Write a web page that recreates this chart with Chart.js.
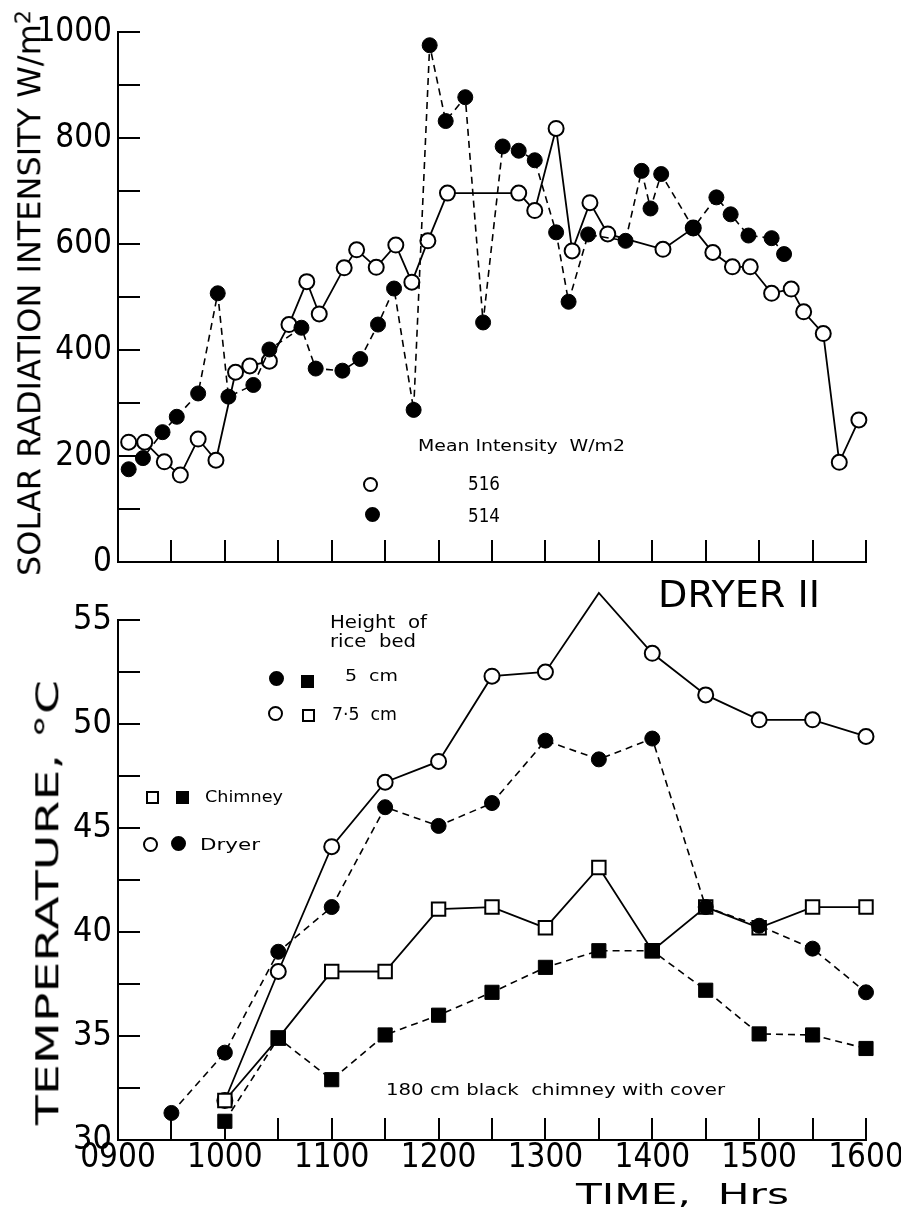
<!DOCTYPE html>
<html><head><meta charset="utf-8">
<script src="https://cdn.jsdelivr.net/npm/chart.js@4/dist/chart.umd.min.js"></script>
<style>
html,body{margin:0;padding:0;background:#fff;}
#wrap{position:relative;width:901px;height:1209px;overflow:hidden;background:#fff;}
canvas{position:absolute;left:0;}
.t{position:absolute;left:0;top:0;white-space:nowrap;line-height:1;color:#000;font-family:'DejaVu Sans',sans-serif;transform-origin:0 0;}
.mk{position:absolute;box-sizing:border-box;border:2px solid #000;}
</style></head><body>
<div id="wrap">
<canvas id="cTop" width="901" height="600" style="top:0px"></canvas>
<canvas id="cBot" width="901" height="629" style="top:580px"></canvas>
</div>
<script>
// ---------- DATA (time in minutes after 09:00) ----------
const solarOpenTime   = [6,15,26,35,45,55,66,74,85,96,106,113,127,134,145,156,165,174,185,225,234,246,255,265,275,306,323,334,345,355,367,378,385,396,405,416];
const solarOpenValue  = [226,226,189,164,232,192,358,370,379,448,529,468,555,589,556,598,528,606,696,696,663,818,587,678,619,590,630,584,557,557,507,515,472,431,188,268];
const solarFilledTime = [6,14,25,33,45,56,62,76,85,103,111,126,136,146,155,166,175,184,195,205,216,225,234,246,253,264,285,294,299,305,323,336,344,354,367,374];
const solarFilledValue= [175,196,245,274,318,507,312,334,401,442,365,361,383,448,516,287,975,832,877,452,784,776,758,622,491,618,606,738,667,732,630,688,656,616,611,581];

const dryer5Time   = [30,60,90,120,150,180,210,240,270,300,330,360,390,420];
const dryer5Temp   = [31.3,34.2,39.05,41.2,46.0,45.1,46.2,49.2,48.3,49.3,41.2,40.3,39.2,37.1];
const halfHourTime = [60,90,120,150,180,210,240,270,300,330,360,390,420];
const dryer75Temp  = [31.9,38.1,44.1,47.2,48.2,52.3,52.5,56.3,53.4,51.4,50.2,50.2,49.4];
const chim75Temp   = [31.9,34.9,38.1,38.1,41.1,41.2,40.2,43.1,39.1,41.2,40.2,41.2,41.2];
const chim5Temp    = [30.9,34.9,32.9,35.05,36.0,37.1,38.3,39.1,39.1,37.2,35.1,35.05,34.4];

const timeTicks      = [0,30,60,90,120,150,180,210,240,270,300,330,360,390,420];
const timeTickLabels = ['0900','1000','1100','1200','1300','1400','1500','1600'];
const solarTickLabels= ['0','200','400','600','800','1000'];
const tempTickLabels = ['30','35','40','45','50','55'];

// ---------- HELPERS ----------
const NARROW = "'Liberation Sans Narrow','DejaVu Sans Condensed','Arial Narrow',sans-serif";
Chart.defaults.color = '#000';
Chart.defaults.font.family = NARROW;
const pts = (xs, ys) => xs.map((x, i) => ({x: x, y: ys[i]}));

const lineBase = {borderColor:'#000', fill:false, tension:0, clip:false, pointBorderColor:'#000'};
const openCircle   = Object.assign({}, lineBase, {borderWidth:1.8, pointStyle:'circle', pointRadius:7.5, pointHoverRadius:7.5, pointBorderWidth:2, pointBackgroundColor:'#fff'});
const filledCircle = Object.assign({}, lineBase, {borderWidth:1.6, borderDash:[7,5], pointStyle:'circle', pointRadius:7.5, pointHoverRadius:7.5, pointBorderWidth:1, pointBackgroundColor:'#000'});
const openSquare   = Object.assign({}, lineBase, {borderWidth:1.8, pointStyle:'rect', pointRadius:9.5, pointHoverRadius:9.5, pointBorderWidth:2, pointBackgroundColor:'#fff'});
const filledSquare = Object.assign({}, lineBase, {borderWidth:1.6, borderDash:[7,5], pointStyle:'rect', pointRadius:10, pointHoverRadius:10, pointBorderWidth:1, pointBackgroundColor:'#000'});

const gridOpts = {drawOnChartArea:false, drawTicks:true, tickLength:-22, color:'#000', lineWidth:2};
const borderOpts = {display:true, color:'#000', width:2};
function noPad(s) { s.paddingLeft = 0; s.paddingRight = 0; s.paddingTop = 0; s.paddingBottom = 0; }

function xAxis(withLabels, h) {
  return {
    type:'linear', min:0, max:420,
    afterFit: s => { s.height = h; noPad(s); },
    afterBuildTicks: s => { s.ticks = timeTicks.map(v => ({value:v})); },
    ticks: {display:true, autoSkip:false, maxRotation:0, minRotation:0, padding:21,
            font:{size:33},
            callback: v => (withLabels && v % 60 === 0) ? timeTickLabels[v/60] : ''},
    grid: gridOpts, border: borderOpts
  };
}

// ---------- TOP CHART ----------
new Chart(document.getElementById('cTop'), {
  type:'line',
  data:{datasets:[
    Object.assign({label:'filled', data:pts(solarFilledTime, solarFilledValue)}, filledCircle),
    Object.assign({label:'open', data:pts(solarOpenTime, solarOpenValue)}, openCircle)
  ]},
  options:{
    responsive:false, animation:false, events:[],
    layout:{padding:{left:0, right:35, top:32, bottom:0}},
    plugins:{legend:{display:false}, tooltip:{enabled:false}},
    scales:{
      x: xAxis(false, 38),
      y: {type:'linear', min:0, max:1000,
          afterFit: s => { s.width = 118; noPad(s); },
          ticks:{stepSize:100, autoSkip:false, padding:28, font:{size:33},
                 callback: v => (v % 200 === 0) ? solarTickLabels[v/200] : ''},
          grid:gridOpts, border:borderOpts}
    }
  }
});

// ---------- BOTTOM CHART ----------
new Chart(document.getElementById('cBot'), {
  type:'line',
  data:{datasets:[
    Object.assign({label:'Dryer 5 cm', data:pts(dryer5Time, dryer5Temp)}, filledCircle),
    Object.assign({label:'Chimney 5 cm', data:pts(halfHourTime, chim5Temp)}, filledSquare),
    Object.assign({label:'Chimney 7.5 cm', data:pts(halfHourTime, chim75Temp)}, openSquare),
    Object.assign({label:'Dryer 7.5 cm', data:pts(halfHourTime, dryer75Temp)}, openCircle)
  ]},
  options:{
    responsive:false, animation:false, events:[],
    layout:{padding:{left:0, right:35, top:40, bottom:0}},
    plugins:{legend:{display:false}, tooltip:{enabled:false}},
    scales:{
      x: xAxis(true, 69),
      y: {type:'linear', min:30, max:55,
          afterFit: s => { s.width = 118; noPad(s); },
          ticks:{stepSize:2.5, autoSkip:false, padding:28, font:{size:34},
                 callback: v => (v % 5 === 0) ? tempTickLabels[(v-30)/5] : ''},
          grid:gridOpts, border:borderOpts}
    }
  }
});

// ---------- TEXT & LEGEND OVERLAYS ----------
const wrap = document.getElementById('wrap');
const CAP = 0.729, TOPOFF = 0.117;
function text(html, x, capTop, capH, width, rot) {
  const fs = capH / CAP;
  const el = document.createElement('div');
  el.className = 't';
  el.innerHTML = html;
  el.style.fontSize = fs + 'px';
  wrap.appendChild(el);
  const nat = el.getBoundingClientRect().width;
  const sx = width / nat;
  if (rot) {
    el.style.transform = 'translate(' + (x - TOPOFF*fs) + 'px,' + capTop + 'px) rotate(-90deg) scale(' + sx + ',1)';
  } else {
    el.style.transform = 'translate(' + x + 'px,' + (capTop - TOPOFF*fs) + 'px) scale(' + sx + ',1)';
  }
}
function marker(kind, cx, cy, size) {
  const el = document.createElement('div');
  el.className = 'mk';
  el.style.width = size + 'px'; el.style.height = size + 'px';
  el.style.left = (cx - size/2) + 'px'; el.style.top = (cy - size/2) + 'px';
  if (kind[1] === 'c') el.style.borderRadius = '50%';
  el.style.background = kind[0] === 'f' ? '#000' : '#fff';
  wrap.appendChild(el);
}

text('SOLAR RADIATION INTENSITY W/m<span style="position:relative;top:-0.45em;font-size:0.7em">2</span>', 18, 576, 23, 566, true);
text('TEMPERATURE, °C', 36, 1125, 23, 445, true);
text('TIME,&nbsp; Hrs', 576, 1183, 21, 213, false);

text('Mean Intensity&nbsp; W/m2', 418, 440, 12, 207, false);
marker('oc', 370, 484, 15); text('516', 468, 476, 14, 32, false);
marker('fc', 372, 514, 15); text('514', 468, 508, 14, 32, false);

text('DRYER II', 658, 580, 27, 162, false);
text('Height&nbsp; of', 330, 615, 13, 97, false);
text('rice&nbsp; bed', 330, 634, 13, 86, false);
marker('fc', 276, 678, 15); marker('fs', 307, 681, 13); text('5&nbsp; cm', 345, 670, 12, 53, false);
marker('oc', 275, 713, 15); marker('os', 308, 715, 13); text('7·5&nbsp; cm', 332, 707, 13, 65, false);
marker('os', 152, 797, 13); marker('fs', 182, 797, 13); text('Chimney', 205, 791, 12, 78, false);
marker('oc', 150, 844, 15); marker('fc', 178, 843, 15); text('Dryer', 200, 839, 12, 60, false);
text('180 cm black&nbsp; chimney with cover', 386, 1084, 12, 339, false);
</script>
</body></html>
